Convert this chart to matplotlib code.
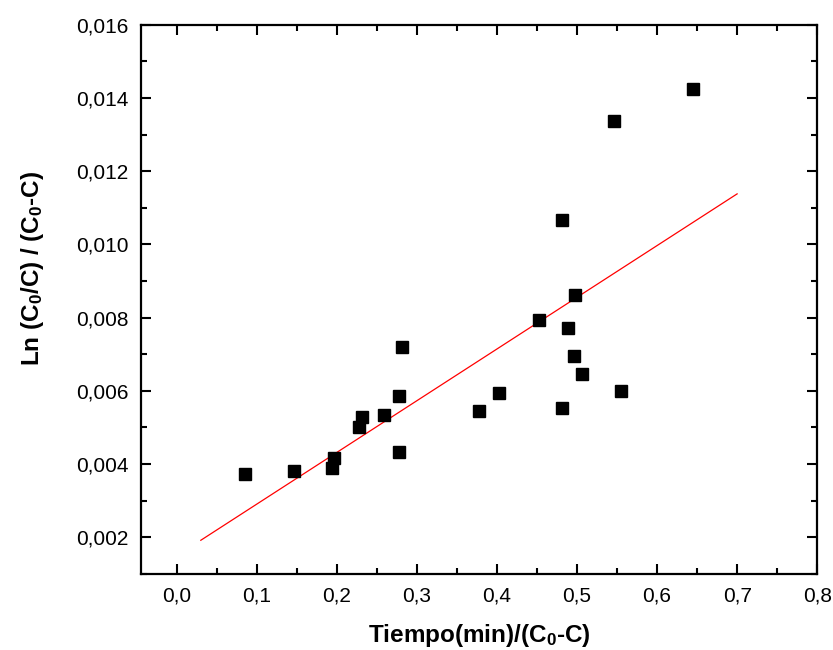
import numpy as np
import matplotlib
matplotlib.use('Agg')
import matplotlib.pyplot as plt
from matplotlib.ticker import MultipleLocator, FuncFormatter

# ==============================================================================
# Datos
# ==============================================================================
tiempo = [0.085, 0.146, 0.194, 0.197, 0.228, 0.231, 0.259, 0.278, 0.281, 0.278,
          0.3775, 0.4025, 0.453, 0.4975, 0.489, 0.496, 0.506, 0.555, 0.481,
          0.4817, 0.5466, 0.6446]
ln_conc = [0.00372, 0.00380, 0.00389, 0.00416, 0.00501, 0.00529, 0.00533, 0.00587,
           0.00720, 0.00432, 0.00545, 0.00593, 0.00793, 0.00863, 0.00773, 0.00696,
           0.00647, 0.00601, 0.00553, 0.01066, 0.01337, 0.01424]

# extremos de la recta de ajuste
ajuste_x = [0.03, 0.70]
ajuste_y = [0.00192, 0.01138]

plt.rcParams['font.family'] = ['Liberation Sans', 'DejaVu Sans']
plt.rcParams['mathtext.fontset'] = 'custom'
plt.rcParams['mathtext.rm'] = 'Liberation Sans:bold'
plt.rcParams['mathtext.default'] = 'rm'

fig = plt.figure(figsize=(8.33, 6.5), dpi=100)
ax = fig.add_axes([0.169, 0.117, 0.812, 0.845])

ax.plot(tiempo, ln_conc, 's', color='black', markersize=8.5, zorder=3)
ax.plot(ajuste_x, ajuste_y, color='red', lw=0.9, zorder=2)

ax.set_xlim(-0.045, 0.8)
ax.set_ylim(0.001, 0.016)

ax.xaxis.set_major_locator(MultipleLocator(0.1))
ax.xaxis.set_minor_locator(MultipleLocator(0.05))
ax.yaxis.set_major_locator(MultipleLocator(0.002))
ax.yaxis.set_minor_locator(MultipleLocator(0.001))

ax.xaxis.set_major_formatter(FuncFormatter(lambda v, p: f"{v:.1f}".replace('.', ',')))
ax.yaxis.set_major_formatter(FuncFormatter(lambda v, p: f"{v:.3f}".replace('.', ',')))

ax.tick_params(which='both', direction='in', top=True, right=True, width=1.5)
ax.tick_params(which='major', length=7, labelsize=15, pad=9)
ax.tick_params(which='minor', length=4)

for s in ax.spines.values():
    s.set_linewidth(1.6)

ax.set_xlabel('Tiempo(min)/(C$_0$-C)', fontsize=17.5, fontweight='bold', labelpad=12)
ax.set_ylabel('Ln (C$_0$/C) / (C$_0$-C)', fontsize=17.5, fontweight='bold')
ax.yaxis.set_label_coords(-0.14, 0.557)

plt.savefig('out.png', dpi=100)
